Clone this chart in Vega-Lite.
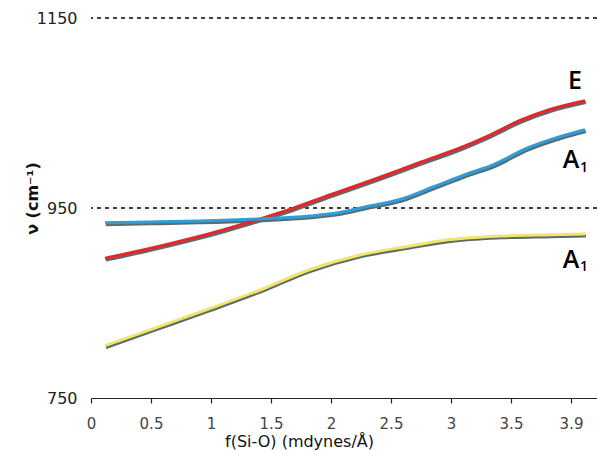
{
  "$schema": "https://vega.github.io/schema/vega-lite/v6.json",
  "width": 506,
  "height": 380,
  "autosize": {"type": "none"},
  "padding": {"left": 91, "top": 18, "right": 0, "bottom": 53},
  "background": "white",
  "config": {"view": {"stroke": null}, "axis": {"grid": false}},
  "datasets": {
    "curves": [
      {"series": "E", "f": 0.117, "v": 897.1},
      {"series": "E", "f": 0.49, "v": 907.3},
      {"series": "E", "f": 0.825, "v": 917.6},
      {"series": "E", "f": 1.1, "v": 927.0},
      {"series": "E", "f": 1.325, "v": 935.3},
      {"series": "E", "f": 1.675, "v": 949.3},
      {"series": "E", "f": 1.99, "v": 963.7},
      {"series": "E", "f": 2.24, "v": 974.7},
      {"series": "E", "f": 2.575, "v": 990.0},
      {"series": "E", "f": 2.74, "v": 997.9},
      {"series": "E", "f": 3.075, "v": 1013.2},
      {"series": "E", "f": 3.325, "v": 1026.8},
      {"series": "E", "f": 3.575, "v": 1042.1},
      {"series": "E", "f": 3.825, "v": 1053.7},
      {"series": "E", "f": 4.117, "v": 1062.9},
      {"series": "A1 upper", "f": 0.117, "v": 934.4},
      {"series": "A1 upper", "f": 0.49, "v": 935.3},
      {"series": "A1 upper", "f": 0.9, "v": 936.3},
      {"series": "A1 upper", "f": 1.383, "v": 938.4},
      {"series": "A1 upper", "f": 1.825, "v": 941.6},
      {"series": "A1 upper", "f": 2.075, "v": 945.3},
      {"series": "A1 upper", "f": 2.3, "v": 951.6},
      {"series": "A1 upper", "f": 2.575, "v": 958.9},
      {"series": "A1 upper", "f": 2.85, "v": 972.1},
      {"series": "A1 upper", "f": 3.133, "v": 985.8},
      {"series": "A1 upper", "f": 3.35, "v": 995.3},
      {"series": "A1 upper", "f": 3.633, "v": 1012.9},
      {"series": "A1 upper", "f": 3.908, "v": 1025.1},
      {"series": "A1 upper", "f": 4.117, "v": 1032.4},
      {"series": "A1 lower", "f": 0.117, "v": 805.1},
      {"series": "A1 lower", "f": 0.55, "v": 824.4},
      {"series": "A1 lower", "f": 0.967, "v": 843.1},
      {"series": "A1 lower", "f": 1.408, "v": 863.7},
      {"series": "A1 lower", "f": 1.825, "v": 885.3},
      {"series": "A1 lower", "f": 2.24, "v": 900.5},
      {"series": "A1 lower", "f": 2.658, "v": 910.0},
      {"series": "A1 lower", "f": 2.99, "v": 916.8},
      {"series": "A1 lower", "f": 3.408, "v": 920.5},
      {"series": "A1 lower", "f": 3.825, "v": 921.8},
      {"series": "A1 lower", "f": 4.117, "v": 922.6}
    ],
    "refs": [{"v": 950}, {"v": 1150}],
    "letters": [
      {"label": "E", "f": 4.033, "v": 1083.7},
      {"label": "A", "f": 4.0, "v": 1000.5},
      {"label": "A", "f": 4.0, "v": 895.3}
    ],
    "subs": [
      {"label": "1", "f": 4.108, "v": 992},
      {"label": "1", "f": 4.108, "v": 888}
    ]
  },
  "layer": [
    {
      "data": {"name": "refs"},
      "mark": {"type": "rule", "strokeDash": [4, 4], "color": "#000", "strokeWidth": 1.5},
      "encoding": {
        "y": {
          "field": "v", "type": "quantitative",
          "scale": {"domain": [750, 1150], "nice": false, "zero": false},
          "axis": {
            "values": [750, 950, 1150], "format": "d", "domain": false, "ticks": false, "grid": false,
            "labelFont": "DejaVu Sans", "labelFontSize": 16, "labelColor": "#222", "labelPadding": 14,
            "title": "ν (cm⁻¹)", "titleFont": "DejaVu Sans", "titleFontSize": 16, "titleFontWeight": "bold",
            "titleColor": "#111", "titleAngle": -90, "titleX": -59, "titleY": 180,
            "titleAlign": "center", "titleBaseline": "middle"
          }
        }
      }
    },
    {
      "data": {"name": "curves"},
      "mark": {"type": "line", "interpolate": "monotone", "color": "#5c6b70", "strokeWidth": 3.5, "xOffset": 0.8, "yOffset": 1.6},
      "encoding": {
        "x": {
          "field": "f", "type": "quantitative",
          "scale": {"domain": [0, 4.2167], "nice": false, "zero": false},
          "axis": {
            "values": [0, 0.25, 0.5, 0.75, 1, 1.25, 1.5, 1.75, 2, 2.25, 2.5, 2.75, 3, 3.25, 3.5, 3.75, 4],
            "labelExpr": "datum.value % 0.5 == 0 ? (datum.value == 4 ? '3.9' : format(datum.value, '~g')) : ''",
            "labelOverlap": false, "labelFlush": false, "grid": false,
            "domainColor": "#222", "domainWidth": 1.2, "tickColor": "#222", "tickSize": 5, "tickWidth": 1.2,
            "labelFont": "DejaVu Sans", "labelFontSize": 15, "labelColor": "#444", "labelPadding": 13,
            "title": "f(Si-O) (mdynes/Å)", "titleFont": "DejaVu Sans", "titleFontSize": 16,
            "titleFontWeight": "normal", "titleColor": "#111", "titlePadding": 2, "titleX": 208
          }
        },
        "y": {"field": "v", "type": "quantitative"},
        "detail": {"field": "series"}
      }
    },
    {
      "data": {"name": "curves"},
      "mark": {"type": "line", "interpolate": "monotone", "strokeWidth": 3},
      "encoding": {
        "x": {"field": "f", "type": "quantitative"},
        "y": {"field": "v", "type": "quantitative"},
        "color": {
          "field": "series", "type": "nominal",
          "scale": {"domain": ["E", "A1 upper", "A1 lower"], "range": ["#e8262a", "#2f9dd8", "#f2e66a"]},
          "legend": null
        }
      }
    },
    {
      "data": {"name": "letters"},
      "mark": {"type": "text", "font": "Open Sans", "fontWeight": 600, "fontSize": 25, "color": "#000", "align": "center", "baseline": "middle"},
      "encoding": {
        "x": {"field": "f", "type": "quantitative"},
        "y": {"field": "v", "type": "quantitative"},
        "text": {"field": "label"}
      }
    },
    {
      "data": {"name": "subs"},
      "mark": {"type": "text", "font": "Open Sans", "fontWeight": 600, "fontSize": 14, "color": "#000", "align": "center", "baseline": "middle"},
      "encoding": {
        "x": {"field": "f", "type": "quantitative"},
        "y": {"field": "v", "type": "quantitative"},
        "text": {"field": "label"}
      }
    }
  ]
}
